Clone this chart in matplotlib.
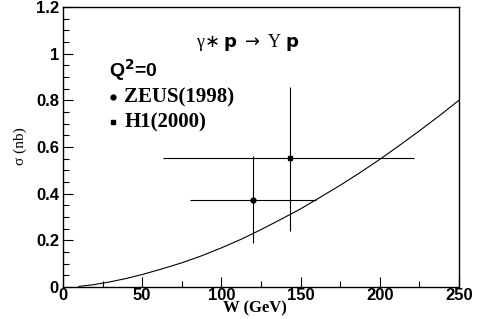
import matplotlib.pyplot as plt
from matplotlib.ticker import MultipleLocator

# model curve
curve_w = [10, 20, 30, 40, 50, 62.5, 75, 87.5, 100, 112.5, 125, 137.5, 150,
           162.5, 175, 187.5, 200, 212.5, 225, 237.5, 250]
curve_s = [0.003, 0.011, 0.023, 0.037, 0.054, 0.078, 0.104, 0.134, 0.168,
           0.205, 0.246, 0.290, 0.335, 0.385, 0.436, 0.490, 0.547, 0.607,
           0.669, 0.733, 0.800]

# ZEUS(1998)
zeus_w = [120]
zeus_s = [0.375]
zeus_wlo = [80]
zeus_whi = [160]
zeus_slo = [0.19]
zeus_shi = [0.56]

# H1(2000)
h1_w = [143.5]
h1_s = [0.553]
h1_wlo = [63]
h1_whi = [222]
h1_slo = [0.241]
h1_shi = [0.859]

plt.rcParams['font.family'] = ['Liberation Sans', 'DejaVu Sans']

fig = plt.figure(figsize=(4.85, 3.19), dpi=100)
ax = fig.add_axes([0.130, 0.100, 0.816, 0.878])

ax.plot(curve_w, curve_s, color='black', lw=0.8)

xerr = [[zeus_w[0] - zeus_wlo[0]], [zeus_whi[0] - zeus_w[0]]]
yerr = [[zeus_s[0] - zeus_slo[0]], [zeus_shi[0] - zeus_s[0]]]
ax.errorbar(zeus_w, zeus_s, xerr=xerr, yerr=yerr, fmt='o', color='black',
            ms=3.5, lw=0.8, capsize=0)

xerr = [[h1_w[0] - h1_wlo[0]], [h1_whi[0] - h1_w[0]]]
yerr = [[h1_s[0] - h1_slo[0]], [h1_shi[0] - h1_s[0]]]
ax.errorbar(h1_w, h1_s, xerr=xerr, yerr=yerr, fmt='s', color='black',
            ms=3.5, lw=0.8, capsize=0)

ax.set_xlim(0, 250)
ax.set_ylim(0, 1.2)
ax.xaxis.set_major_locator(MultipleLocator(50))
ax.xaxis.set_minor_locator(MultipleLocator(25))
ax.set_yticks([0, 0.2, 0.4, 0.6, 0.8, 1.0, 1.2])
ax.set_yticklabels(['0', '0.2', '0.4', '0.6', '0.8', '1', '1.2'])
ax.yaxis.set_minor_locator(MultipleLocator(0.05))
ax.tick_params(which='both', direction='in', top=False, right=False,
               labelsize=12)
ax.tick_params(axis='x', pad=1)
ax.tick_params(axis='y', pad=3)
ax.tick_params(which='major', length=7, width=0.8)
ax.tick_params(which='minor', length=4, width=0.8)
for lab in ax.get_xticklabels() + ax.get_yticklabels():
    lab.set_fontweight('bold')
for s in ax.spines.values():
    s.set_linewidth(1.0)

ax.set_xlabel('W (GeV)', family='Liberation Serif', fontweight='bold',
              fontsize=12)
ax.xaxis.set_label_coords(0.485, -0.047)
ax.set_ylabel('σ (nb)', family='Liberation Serif', fontsize=11)
ax.yaxis.set_label_coords(-0.09, 0.505)

ax.text(0.335, 0.875, 'γ$\\ast$ $\\mathbf{p}$ $\\rightarrow$ Υ $\\mathbf{p}$',
        transform=ax.transAxes, fontsize=13, family='Liberation Serif',
        va='center')
ax.text(0.117, 0.775, 'Q$^\\mathbf{2}$=0', transform=ax.transAxes,
        fontsize=14, fontweight='bold', va='center')
ax.plot([0.125], [0.677], 'o', color='black', ms=3.5, transform=ax.transAxes)
ax.text(0.155, 0.677, 'ZEUS(1998)', transform=ax.transAxes, fontsize=15,
        family='Liberation Serif', fontweight='bold', va='center')
ax.plot([0.125], [0.588], 's', color='black', ms=3.5, transform=ax.transAxes)
ax.text(0.155, 0.588, 'H1(2000)', transform=ax.transAxes, fontsize=15,
        family='Liberation Serif', fontweight='bold', va='center')

fig.savefig('out.png', dpi=100)
